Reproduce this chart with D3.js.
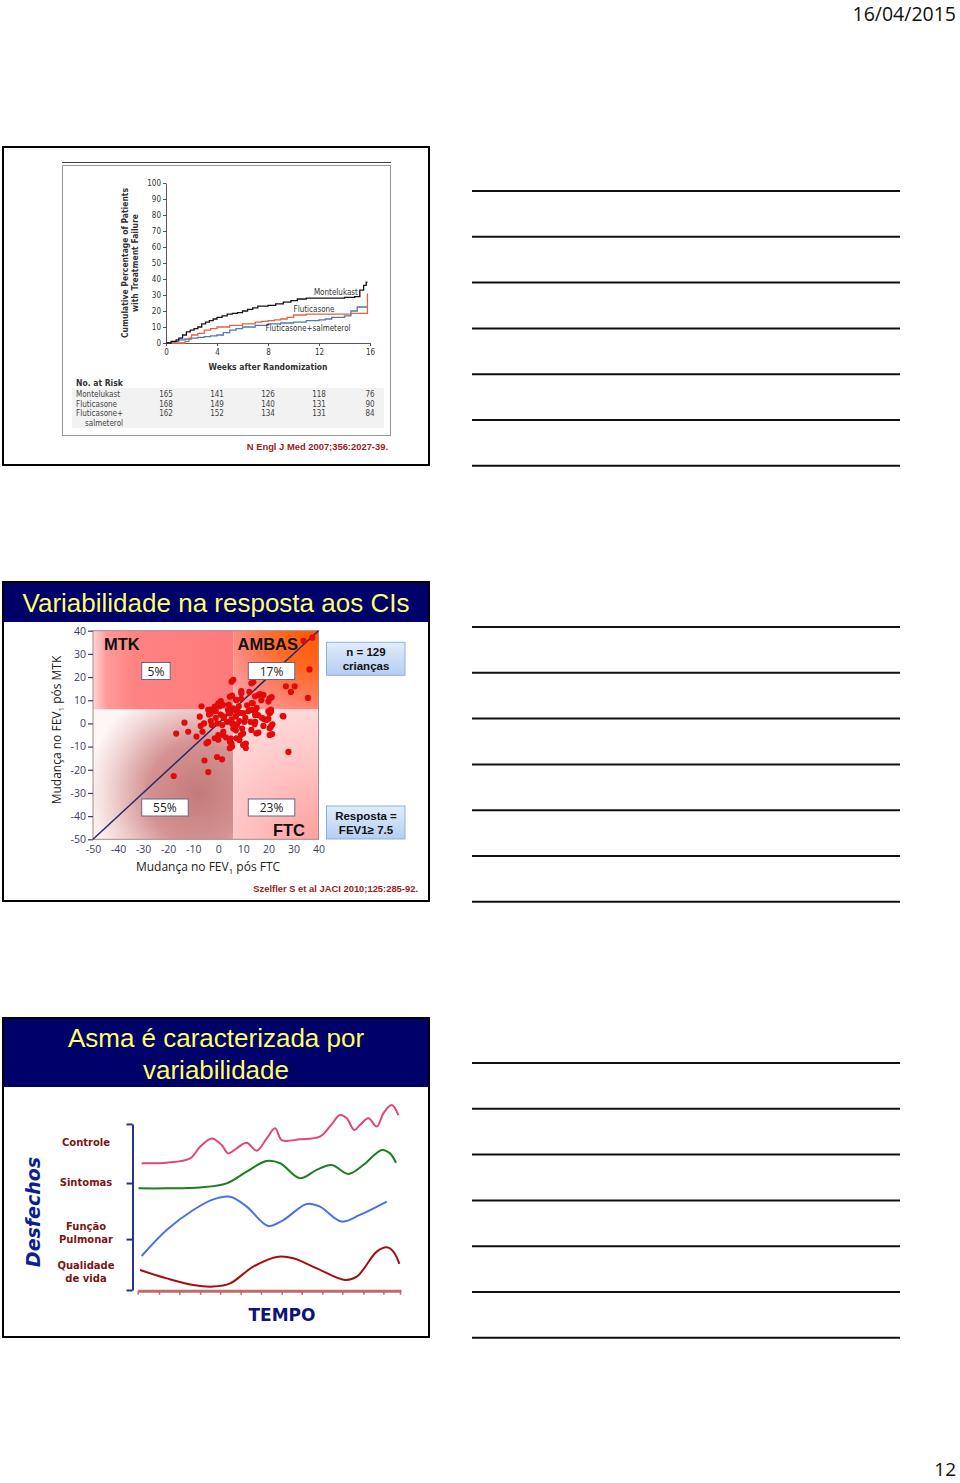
<!DOCTYPE html>
<html><head><meta charset="utf-8">
<script src="https://cdn.jsdelivr.net/npm/d3@7"></script>
<style>html,body{margin:0;padding:0;background:#fff;}svg{display:block;}</style>
</head><body>
<script>
// ================= DATA =================
const pageDate = "16/04/2015";
const pageNumber = "12";

// ---- Slide 1: cumulative % of patients with treatment failure ----
const weekTicks = [0, 4, 8, 12, 16];
const pctTicks = [0, 10, 20, 30, 40, 50, 60, 70, 80, 90, 100];
const montelukastWeeks = [0, 0.4, 0.8, 1.0, 1.3, 1.6, 1.9, 2.2, 2.5, 2.8, 3.1, 3.4, 3.7, 4.0, 4.4, 4.8, 5.2, 5.6, 6.0, 6.4, 6.8, 7.2, 8.0, 8.6, 9.2, 9.8, 10.3, 11.0, 12.0, 13.0, 14.0, 14.8, 15.2, 15.5, 15.7, 15.8];
const montelukastPct   = [0, 1, 2, 3, 5, 7, 8, 9, 10, 12, 13, 14, 15, 16, 17, 18, 18.5, 19, 20, 21, 22, 23, 23.5, 24.5, 25.5, 26.5, 27.5, 28, 28, 28, 28.5, 29, 33, 36, 38, 38];
const fluticasoneWeeks = [0, 1.2, 1.5, 1.8, 2.0, 2.5, 3.0, 3.5, 4.0, 5.0, 6.0, 7.0, 7.5, 8.0, 8.5, 9.0, 9.5, 10.0, 11.0, 12.0, 13.0, 14.0, 14.5, 15.8, 15.8];
const fluticasonePct   = [0, 0, 1, 3, 5, 6, 8, 9, 10, 11, 12, 13, 13.5, 14, 14.5, 15, 16, 17.5, 18, 18, 18, 18, 18.5, 18.5, 31];
const flutSalmWeeks = [0, 0.7, 1.0, 1.5, 2.0, 2.5, 3.0, 3.5, 4.0, 4.5, 5.0, 5.5, 6.0, 7.0, 8.0, 9.0, 10.0, 11.0, 12.0, 12.5, 13.0, 14.0, 14.5, 15.0, 15.8];
const flutSalmPct   = [0, 1, 2, 2.5, 3, 3.5, 4, 4.5, 5, 6.5, 8, 9, 10, 11, 12, 12.5, 13, 14, 14.5, 15, 16, 17, 20, 22.5, 22.5];
const seriesNames = ["Montelukast", "Fluticasone", "Fluticasone+salmeterol"];
const riskLabels = ["Montelukast", "Fluticasone", "Fluticasone+", "salmeterol"];
const riskMontelukast = [165, 141, 126, 118, 76];
const riskFluticasone = [168, 149, 140, 131, 90];
const riskFlutSalm = [162, 152, 134, 131, 84];

// ---- Slide 2: FEV1 change after FTC (x) vs after MTK (y) ----
const fevTicks = [-50, -40, -30, -20, -10, 0, 10, 20, 30, 40];
const quadrantBoundary = 6;
const quadrantPct = ["5%", "17%", "55%", "23%"];
const ftcChange = [34,37.5,36.4,35.8,27,30.5,29,25.7,28,26,
 6,5.3,13.2,14,16.7,18,21.3,20,12.4,9.2,
 9.2,5.5,4.6,7,7.3,9.2,11.5,13.4,14.7,15.9,
 17.2,20.5,13.8,15.3,8.2,5.5,4.2,1,0,-1.4,
 0.5,1.9,-3,-6.7,-4,5.9,3.9,7.9,9.9,13.2,
 15.9,20,21,21,-3.7,-1,1,2.2,4.9,7,
 8.8,12,15,17.4,19.2,20.5,14.7,14.7,18,20,
 -7.4,-7,-5.7,-3,-1,-13.5,-16.8,-12,5.3,6.6,
 8.4,10.8,14.5,18,21.6,21,21.5,-6.3,-2.6,-3,
 -4,0,0,2,3,5,5.5,5.3,7,8.4,
 9,11,11,14.7,16,12.8,10.4,7,4.2,2,
 -0.4,1.6,3.5,5.5,7.5,9.5,6,-8.7,-5.5,-0.5,
 1.5,-4.7,-1.4,1.9,4.6,7.2,9.9,4.6,9.9,13.2,
 15.2,20.5,20.5,-17.8,-4];
const mtkChange = [35.6,37,23.3,11,16,16,13.6,3.2,-12.3,3,
 18.8,18,17.3,17.8,12.7,12.3,11.3,9.4,13.6,13.9,
 13,12,11.5,10.3,10,10.6,7.8,8.8,11.7,12.2,
 10,10.8,8.7,6.7,7.4,6,8,9.6,8.7,7.2,
 7.4,8,6,7.4,5.8,6.5,5.8,5,4.4,5.8,
 3.6,5.3,6,5,3.8,5.3,3.8,2.4,4.5,5.6,
 4.5,5.3,3.8,2.4,1.5,4.4,4.8,3.6,2,2,
 2.9,-1.1,0,1,2.4,0.3,-4.4,-3.6,1.7,-0.4,
 1,2.4,-0.4,-1.1,-0.4,-1.4,-4.6,-3.6,-0.7,4.3,
 -8,-7,-5,-3.6,-6,-6.5,-10,-8.7,-3,-7.2,
 -5,-8.7,-10.6,0.7,-4,0.7,0.7,3,4.3,3,
 0,-0.7,0.7,0,-0.7,-2.2,-2.2,-5.7,-16,-14.5,
 -15.5,-8.6,-6.4,-5,-7.9,-6.4,-9.3,-10.7,-4.3,-2.8,
 -4.3,-2.1,-5,-22.7,-21];

// ---- Slide 3: outcomes over time ----
const outcomeNames = ["Controle", "Sintomas", "Função Pulmonar", "Qualidade de vida"];
const timeTicks = [0, 8.1, 15.8, 23.7, 31.3, 39.1, 46.8, 54.7, 62.3, 70.1, 77.7, 85.7, 93.3, 99.6];
const bracketTicks = [0, 26.8, 56.3, 87.4];
const controleT = [1.5, 11, 19.9, 23.7, 28.1, 31.9, 34.4, 37.6, 41.4, 45.2, 49, 52.2, 54.7, 61.6, 69.2, 73, 76.8, 79.4, 82.2, 84.4, 87.6, 90.8, 93.3, 96.5, 99];
const controleV = [66.7, 67, 69.3, 75.4, 79.8, 76.3, 71.9, 74.6, 77.5, 73.3, 79.8, 85.1, 78.9, 79.3, 80.7, 86, 92.1, 90.4, 84.2, 86.8, 90.4, 86, 93, 97.4, 92.1];
const sintomasT = [0.3, 11, 23.7, 33.8, 41.4, 49, 54.1, 61.6, 68, 73.7, 80, 85.7, 92.7, 95.8, 98.1];
const sintomasV = [53.5, 53.5, 54, 56.1, 62.3, 67.9, 66.7, 58.8, 63.2, 65.8, 61.1, 65.8, 73.7, 71.9, 67];
const funcaoT = [1.5, 11, 21.1, 28.7, 35.1, 41.4, 49.6, 55.3, 64.2, 69.2, 77.5, 84.4, 94.6];
const funcaoV = [17.9, 31.6, 42.1, 47.7, 49.1, 43.9, 33.7, 36.8, 45.3, 43.9, 36, 39.5, 46.5];
const qualidadeT = [0.9, 11, 21.1, 28.7, 35.1, 43.9, 53.4, 59.1, 68, 78.7, 83.2, 90.8, 94.6, 97.1, 99.4];
const qualidadeV = [10.5, 6.1, 2.6, 1.8, 3.5, 12.3, 17.5, 16.7, 11.4, 5.3, 7, 20.2, 22.5, 20.2, 13.7];

// ================= DRAW =================
const W = 960, H = 1483;
const svg = d3.select("body").append("svg").attr("width", W).attr("height", H);
const defs = svg.append("defs");
const NARROW = "'Liberation Sans Narrow','DejaVu Sans Condensed',sans-serif";
const ARIAL = "'Liberation Sans',Arial,sans-serif";
const OPEN = "'Open Sans',sans-serif";
const VERD = "'DejaVu Sans',Verdana,sans-serif";

svg.append("text").attr("x", 956).attr("y", 21).attr("text-anchor", "end")
  .attr("font-family", OPEN).attr("font-size", 19.5).attr("fill", "#111").text(pageDate);
svg.append("text").attr("x", 956).attr("y", 1476).attr("text-anchor", "end")
  .attr("font-family", OPEN).attr("font-size", 19).attr("fill", "#111").text(pageNumber);

// note lines on right
[191, 627, 1063].forEach(top => {
  d3.range(7).forEach(i => {
    const yy = top + i * 45.8;
    svg.append("line").attr("x1", 472).attr("x2", 900).attr("y1", yy).attr("y2", yy)
      .attr("stroke", "#111").attr("stroke-width", 2);
  });
});

// ---------- Slide 1 ----------
const s1 = svg.append("g");
s1.append("rect").attr("x", 3).attr("y", 147).attr("width", 426).attr("height", 318)
  .attr("fill", "#fff").attr("stroke", "#000").attr("stroke-width", 2);
s1.append("line").attr("x1", 62).attr("x2", 391).attr("y1", 162.5).attr("y2", 162.5).attr("stroke", "#444").attr("stroke-width", 1.2);
s1.append("rect").attr("x", 62.5).attr("y", 165.5).attr("width", 328).attr("height", 270)
  .attr("fill", "none").attr("stroke", "#999").attr("stroke-width", 1);
s1.append("rect").attr("x", 72).attr("y", 388).attr("width", 312).attr("height", 40).attr("fill", "#f2f2f2");

const x1 = d3.scaleLinear().domain([0, 16]).range([166, 370]);
const y1 = d3.scaleLinear().domain([0, 100]).range([343, 183]);
const gx1 = s1.append("g").attr("transform", "translate(0,343)")
  .call(d3.axisBottom(x1).tickValues(weekTicks).tickSize(3).tickSizeOuter(0).tickPadding(3));
const gy1 = s1.append("g").attr("transform", "translate(166,0)")
  .call(d3.axisLeft(y1).tickValues(pctTicks).tickSize(3).tickSizeOuter(0).tickPadding(2));
[gx1, gy1].forEach(g => {
  g.selectAll("path,line").attr("stroke", "#555");
  g.selectAll("text").attr("font-family", NARROW).attr("font-size", 8).attr("fill", "#333");
});
const yt = s1.append("text").attr("transform", "translate(128,263) rotate(-90)")
  .attr("text-anchor", "middle").attr("font-family", NARROW).attr("font-size", 8.5).attr("font-weight", "bold").attr("fill", "#333");
yt.append("tspan").attr("x", 0).attr("dy", 0).text("Cumulative Percentage of Patients");
yt.append("tspan").attr("x", 0).attr("dy", 9.5).text("with Treatment Failure");
s1.append("text").attr("x", 268).attr("y", 370).attr("text-anchor", "middle")
  .attr("font-family", NARROW).attr("font-size", 8.5).attr("font-weight", "bold").attr("fill", "#333").text("Weeks after Randomization");

const stepLine = d3.line().x(d => x1(d[0])).y(d => y1(d[1])).curve(d3.curveStepAfter);
const s1Series = [
  { w: flutSalmWeeks, p: flutSalmPct, c: "#4b7bb5" },
  { w: fluticasoneWeeks, p: fluticasonePct, c: "#e2643f" },
  { w: montelukastWeeks, p: montelukastPct, c: "#151515" }
];
s1Series.forEach(s => {
  s1.append("path").datum(d3.zip(s.w, s.p)).attr("d", stepLine)
    .attr("fill", "none").attr("stroke", s.c).attr("stroke-width", 1.3);
});
const lblPos = [[11.6, 30.3], [10.0, 19.5], [7.8, 7.5]];
seriesNames.forEach((n, i) => {
  s1.append("text").attr("x", x1(lblPos[i][0])).attr("y", y1(lblPos[i][1]))
    .attr("font-family", NARROW).attr("font-size", 8).attr("fill", "#333").text(n);
});

s1.append("text").attr("x", 76).attr("y", 386).attr("font-family", NARROW).attr("font-size", 8.5)
  .attr("font-weight", "bold").attr("fill", "#333").text("No. at Risk");
const riskRows = [riskMontelukast, riskFluticasone, riskFlutSalm];
riskLabels.forEach((l, i) => {
  s1.append("text").attr("x", i === 3 ? 85 : 76).attr("y", 397 + i * 9.7)
    .attr("font-family", NARROW).attr("font-size", 8).attr("fill", "#444").text(l);
});
riskRows.forEach((row, r) => {
  row.forEach((v, i) => {
    s1.append("text").attr("x", x1(weekTicks[i])).attr("y", 397 + r * 9.7).attr("text-anchor", "middle")
      .attr("font-family", NARROW).attr("font-size", 8).attr("fill", "#444").text(v);
  });
});
s1.append("text").attr("x", 388).attr("y", 450).attr("text-anchor", "end")
  .attr("font-family", ARIAL).attr("font-size", 9.4).attr("font-weight", "bold").attr("fill", "#9b1c1c")
  .text("N Engl J Med 2007;356:2027-39.");

// ---------- Slide 2 ----------
const s2 = svg.append("g");
s2.append("rect").attr("x", 3).attr("y", 582).attr("width", 426).attr("height", 319)
  .attr("fill", "#fff").attr("stroke", "#000").attr("stroke-width", 2);
s2.append("rect").attr("x", 4).attr("y", 583).attr("width", 424).attr("height", 39).attr("fill", "#00006b");
s2.append("text").attr("x", 216).attr("y", 612).attr("text-anchor", "middle")
  .attr("font-family", ARIAL).attr("font-size", 26).attr("fill", "#ffff66").text("Variabilidade na resposta aos CIs");

const xs = d3.scaleLinear().domain([-50, 40]).range([93, 318.5]);
const ys = d3.scaleLinear().domain([-50, 40]).range([839.3, 630.7]);
const B = quadrantBoundary;

function radial(id, cx, cy, r, stops) {
  const g = defs.append("radialGradient").attr("id", id).attr("gradientUnits", "userSpaceOnUse")
    .attr("cx", cx).attr("cy", cy).attr("r", r);
  stops.forEach(s => g.append("stop").attr("offset", s[0]).attr("stop-color", s[1]));
}
function linear(id, x1_, y1_, x2_, y2_, stops) {
  const g = defs.append("linearGradient").attr("id", id).attr("gradientUnits", "userSpaceOnUse")
    .attr("x1", x1_).attr("y1", y1_).attr("x2", x2_).attr("y2", y2_);
  stops.forEach(s => g.append("stop").attr("offset", s[0]).attr("stop-color", s[1]));
}
linear("gTL", xs(-50), 0, xs(B), 0, [[0, "#ffd6d6"], [0.1, "#ff9a9a"], [0.3, "#ff8282"], [1, "#ff7a7a"]]);
radial("gTR", xs(40), ys(40), Math.hypot(xs(40) - xs(B), ys(B) - ys(40)),
  [[0, "#ff5500"], [0.35, "#ff6a22"], [0.62, "#ff7e66"], [0.85, "#ff9c9c"], [1, "#ffe4e4"]]);
radial("gBL", xs(-8), ys(-30), 112, [[0, "#c47a7a"], [0.45, "#d49292"], [0.8, "#f2d6d6"], [1, "#fff6f6"]]);
radial("gBR", xs(40), ys(-50), 165, [[0, "#ffa0a0"], [0.5, "#ffc6c6"], [1, "#ffe6e6"]]);

const quads = [
  { x0: -50, x1: B, y0: B, y1: 40, f: "url(#gTL)" },
  { x0: B, x1: 40, y0: B, y1: 40, f: "url(#gTR)" },
  { x0: -50, x1: B, y0: -50, y1: B, f: "url(#gBL)" },
  { x0: B, x1: 40, y0: -50, y1: B, f: "url(#gBR)" }
];
quads.forEach(q => {
  s2.append("rect").attr("x", xs(q.x0)).attr("y", ys(q.y1))
    .attr("width", xs(q.x1) - xs(q.x0)).attr("height", ys(q.y0) - ys(q.y1)).attr("fill", q.f);
});
s2.append("rect").attr("x", xs(-50)).attr("y", ys(40)).attr("width", xs(40) - xs(-50)).attr("height", ys(-50) - ys(40))
  .attr("fill", "none").attr("stroke", "#a88888").attr("stroke-width", 1);

const fmt = d => String(d);
const gy2 = s2.append("g").attr("transform", `translate(${xs(-50)},0)`)
  .call(d3.axisLeft(ys).tickValues(fevTicks).tickSize(5).tickSizeOuter(0).tickPadding(2).tickFormat(fmt));
gy2.select(".domain").remove();
const gx2 = s2.append("g").attr("transform", `translate(0,${ys(-50)})`)
  .call(d3.axisBottom(xs).tickValues(fevTicks).tickSize(0).tickSizeOuter(0).tickPadding(6).tickFormat(fmt));
gx2.select(".domain").remove();
[gx2, gy2].forEach(g => {
  g.selectAll("line").attr("stroke", "#3c3c66").attr("stroke-width", 1.2);
  g.selectAll("text").attr("font-family", OPEN).attr("font-size", 10.5).attr("fill", "#3c3c5c");
});

// diagonal identity line
s2.append("line").attr("x1", xs(-50)).attr("y1", ys(-50)).attr("x2", xs(40)).attr("y2", ys(40))
  .attr("stroke", "#2a2a66").attr("stroke-width", 1.5);

// points
s2.append("g").selectAll("circle").data(d3.zip(ftcChange, mtkChange)).join("circle")
  .attr("cx", d => xs(d[0])).attr("cy", d => ys(d[1])).attr("r", 3.1).attr("fill", "#e30a0a");

// labels
const bold16 = (t, x, y, a) => s2.append("text").attr("x", x).attr("y", y).attr("text-anchor", a || "start")
  .attr("font-family", ARIAL).attr("font-weight", "bold").attr("font-size", 16.5).attr("fill", "#111").text(t);
bold16("MTK", 104, 650);
bold16("AMBAS", 298, 650, "end");
bold16("FTC", 305, 836, "end");
const pctBoxes = [[141.7, 662.5, 28.5], [248.3, 662.5, 46.5], [141.7, 799, 46.5], [248.3, 799, 46.5]];
quadrantPct.forEach((t, i) => {
  const b = pctBoxes[i];
  s2.append("rect").attr("x", b[0]).attr("y", b[1]).attr("width", b[2]).attr("height", 17)
    .attr("fill", "#fff").attr("stroke", "#666688").attr("stroke-width", 1);
  s2.append("text").attr("x", b[0] + b[2] / 2).attr("y", b[1] + 13).attr("text-anchor", "middle")
    .attr("font-family", OPEN).attr("font-size", 12).attr("fill", "#222").text(t);
});
linear("gLeg", 0, 0, 0, 1, [[0, "#e2ecfb"], [1, "#b5cdf2"]]);
defs.select("#gLeg").attr("gradientUnits", "objectBoundingBox");
const legBoxes = [[642.3, ["n = 129", "crianças"]], [806, ["Resposta =", "FEV1≥ 7.5"]]];
legBoxes.forEach(lb => {
  s2.append("rect").attr("x", 326.5).attr("y", lb[0]).attr("width", 78.5).attr("height", 33)
    .attr("fill", "url(#gLeg)").attr("stroke", "#8db0e2").attr("stroke-width", 1);
  lb[1].forEach((t, j) => s2.append("text").attr("x", 366).attr("y", lb[0] + 14 + j * 13.5).attr("text-anchor", "middle")
    .attr("font-family", ARIAL).attr("font-weight", "bold").attr("font-size", 11.5).attr("fill", "#111").text(t));
});
const yTitle = s2.append("text").attr("transform", "translate(61,730) rotate(-90)").attr("text-anchor", "middle")
  .attr("font-family", OPEN).attr("font-size", 12).attr("fill", "#222");
yTitle.append("tspan").text("Mudança no FEV");
yTitle.append("tspan").attr("font-size", 8).attr("dy", 3).text("1");
yTitle.append("tspan").attr("dy", -3).text(" pós MTK");
const xTitle = s2.append("text").attr("x", 208).attr("y", 871).attr("text-anchor", "middle")
  .attr("font-family", OPEN).attr("font-size", 12).attr("fill", "#222");
xTitle.append("tspan").text("Mudança no FEV");
xTitle.append("tspan").attr("font-size", 8).attr("dy", 3).text("1");
xTitle.append("tspan").attr("dy", -3).text(" pós FTC");
s2.append("text").attr("x", 418).attr("y", 892).attr("text-anchor", "end")
  .attr("font-family", ARIAL).attr("font-size", 9.4).attr("font-weight", "bold").attr("fill", "#9b1c1c")
  .text("Szelfler S et al JACI 2010;125:285-92.");

// ---------- Slide 3 ----------
const s3 = svg.append("g");
s3.append("rect").attr("x", 3).attr("y", 1018).attr("width", 426).attr("height", 319)
  .attr("fill", "#fff").attr("stroke", "#000").attr("stroke-width", 2);
s3.append("rect").attr("x", 4).attr("y", 1019).attr("width", 424).attr("height", 68).attr("fill", "#00006b");
["Asma é caracterizada por", "variabilidade"].forEach((t, i) => {
  s3.append("text").attr("x", 216).attr("y", 1047 + i * 32).attr("text-anchor", "middle")
    .attr("font-family", ARIAL).attr("font-size", 26).attr("fill", "#ffff66").text(t);
});

const ts = d3.scaleLinear().domain([0, 100]).range([137.7, 401]);
const ls = d3.scaleLinear().domain([0, 100]).range([1290, 1100]);

// time axis
const gt = s3.append("g").attr("transform", `translate(0,${ls(0) + 0.7})`)
  .call(d3.axisBottom(ts).tickValues(timeTicks).tickSize(4).tickSizeOuter(0).tickFormat(""));
gt.select(".domain").attr("stroke", "#c26a6a").attr("stroke-width", 3);
gt.selectAll("line").attr("stroke", "#c26a6a").attr("stroke-width", 1.5);

// bracket
const bs = ls.copy().domain([0, d3.max(bracketTicks)]).range([ls(0), ls(d3.max(bracketTicks))]);
const gb = s3.append("g").attr("transform", "translate(132.5,0)")
  .call(d3.axisLeft(bs).tickValues(bracketTicks).tickSize(6).tickSizeOuter(0).tickFormat(""));
gb.selectAll("path,line").attr("stroke", "#27348b").attr("stroke-width", 2);

const curve = d3.line().x(d => ts(d[0])).y(d => ls(d[1])).curve(d3.curveCatmullRom.alpha(0.5));
const outcomes = [
  [controleT, controleV, "#e0457b"],
  [sintomasT, sintomasV, "#1d7d24"],
  [funcaoT, funcaoV, "#4a72e2"],
  [qualidadeT, qualidadeV, "#a30f0f"]
];
outcomes.forEach(o => {
  s3.append("path").datum(d3.zip(o[0], o[1])).attr("d", curve)
    .attr("fill", "none").attr("stroke", o[2]).attr("stroke-width", 2);
});

const nameLines = [["Controle"], ["Sintomas"], ["Função", "Pulmonar"], ["Qualidade", "de vida"]];
const nameLevels = [77.4, 56.8, 30, 9.5];
nameLines.forEach((lines, i) => {
  const yc = ls(nameLevels[i]);
  lines.forEach((t, j) => {
    s3.append("text").attr("x", 86).attr("y", yc + 3.5 + (j - (lines.length - 1) / 2) * 13.5)
      .attr("text-anchor", "middle").attr("font-family", VERD).attr("font-weight", "bold")
      .attr("font-size", 10).attr("fill", "#7c1616").text(t);
  });
});
s3.append("text").attr("transform", "translate(40,1212) rotate(-90)").attr("text-anchor", "middle")
  .attr("font-family", VERD).attr("font-weight", "bold").attr("font-style", "italic")
  .attr("font-size", 19).attr("fill", "#0b1f91").text("Desfechos");
s3.append("text").attr("x", 282).attr("y", 1321).attr("text-anchor", "middle")
  .attr("font-family", VERD).attr("font-weight", "bold").attr("font-size", 17).attr("fill", "#10127a").text("TEMPO");
</script>
</body></html>
